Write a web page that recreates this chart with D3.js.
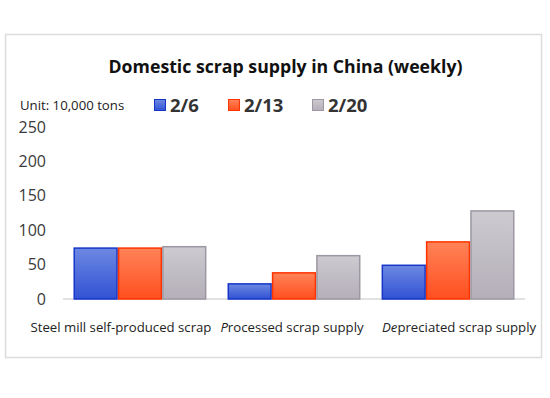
<!DOCTYPE html>
<html>
<head>
<meta charset="utf-8">
<script src="https://cdn.jsdelivr.net/npm/d3@7"></script>
<style>
  body { margin: 0; background: #fff; }
  svg { display: block; font-family: "Open Sans", "Noto Sans", sans-serif; }
</style>
</head>
<body>
<svg id="chart"></svg>
<script>
// data (10,000 tons)
const categories = ['Steel mill self-produced scrap', 'Processed scrap supply', 'Depreciated scrap supply'];
const weeks = ['2/6', '2/13', '2/20'];
const week_2_6 = [74, 22, 49];
const week_2_13 = [74, 38, 83];
const week_2_20 = [76, 63, 128];
const yTicks = [0, 50, 100, 150, 200, 250];

const seriesValues = [week_2_6, week_2_13, week_2_20];
const rows = categories.map((c, i) => ({
  category: c,
  values: weeks.map((w, j) => ({ week: w, value: seriesValues[j][i] }))
}));

const W = 550, H = 398;
const margin = { top: 127, right: 25, bottom: 99, left: 63 };
const w = W - margin.left - margin.right;
const h = H - margin.top - margin.bottom;

const svg = d3.select('#chart').attr('width', W).attr('height', H);

// gradients for the bars
const palette = {
  '2/6': { top: '#6d88e2', bottom: '#3152d4', stroke: '#1536c8' },
  '2/13': { top: '#ff8358', bottom: '#ff4f1f', stroke: '#ff3300' },
  '2/20': { top: '#cdcad0', bottom: '#b4afb8', stroke: '#9c97a2' }
};
const defs = svg.append('defs');
weeks.forEach((wk, i) => {
  const g = defs.append('linearGradient')
    .attr('id', 'grad' + i)
    .attr('x1', 0).attr('y1', 0).attr('x2', 0).attr('y2', 1);
  g.append('stop').attr('offset', '0%').attr('stop-color', palette[wk].top);
  g.append('stop').attr('offset', '100%').attr('stop-color', palette[wk].bottom);
});

// outer frame
svg.append('rect')
  .attr('x', 5.5).attr('y', 34.5)
  .attr('width', 536).attr('height', 323)
  .attr('fill', '#fff')
  .attr('stroke', '#dcdcdc')
  .attr('stroke-width', 1.5);

svg.append('text')
  .attr('x', 285.5).attr('y', 73)
  .attr('text-anchor', 'middle')
  .attr('font-size', 17.7)
  .attr('font-weight', 'bold')
  .attr('fill', '#111')
  .text('Domestic scrap supply in China (weekly)');

// legend
svg.append('text')
  .attr('x', 20).attr('y', 110)
  .attr('font-size', 13.2)
  .attr('fill', '#222')
  .text('Unit: 10,000 tons');

const legendX = [154, 228, 312];
const legend = svg.append('g');
weeks.forEach((wk, i) => {
  const g = legend.append('g').attr('transform', `translate(${legendX[i]},99)`);
  g.append('rect')
    .attr('x', 0.5).attr('y', 0.5)
    .attr('width', 11).attr('height', 11)
    .attr('fill', `url(#grad${i})`)
    .attr('stroke', palette[wk].stroke);
  g.append('text')
    .attr('x', 16).attr('y', 12.5)
    .attr('font-size', 18.5)
    .attr('font-weight', 'bold')
    .attr('fill', '#333')
    .text(wk);
});

const plot = svg.append('g')
  .attr('transform', `translate(${margin.left},${margin.top})`);

const x0 = d3.scaleBand()
  .domain(categories)
  .range([0, w])
  .paddingInner(0.137)
  .paddingOuter(0.068);

const x1 = d3.scaleBand()
  .domain(weeks)
  .range([0, x0.bandwidth()]);

const y = d3.scaleLinear()
  .domain([0, 250])
  .range([h, 0]);

// y axis: labels only
const yAxis = plot.append('g')
  .call(d3.axisLeft(y).tickValues(yTicks).tickSize(0).tickPadding(17));
yAxis.select('.domain').remove();
yAxis.selectAll('text')
  .attr('font-family', '"Open Sans", "Noto Sans", sans-serif')
  .attr('font-size', 16)
  .attr('fill', '#3a3a3a');

// baseline
plot.append('line')
  .attr('x1', 0).attr('x2', w)
  .attr('y1', y(0)).attr('y2', y(0))
  .attr('stroke', '#d8d8d8')
  .attr('stroke-width', 1.5);

const groups = plot.selectAll('.grp')
  .data(rows)
  .enter()
  .append('g')
  .attr('class', 'grp')
  .attr('transform', d => `translate(${x0(d.category)},0)`);

groups.selectAll('rect')
  .data(d => d.values)
  .enter()
  .append('rect')
  .attr('x', d => x1(d.week) + 0.75)
  .attr('y', d => y(d.value))
  .attr('width', x1.bandwidth() - 1.5)
  .attr('height', d => y(0) - y(d.value))
  .attr('fill', (d, i) => `url(#grad${i})`)
  .attr('stroke', d => palette[d.week].stroke)
  .attr('stroke-width', 1.5);

// category labels (the first letters of two labels are italic in the source)
const italicHead = [0, 1, 2];
const labelNudge = [-19, -2, 11];
groups.append('text')
  .attr('x', (d, i) => x0.bandwidth() / 2 + labelNudge[i])
  .attr('y', y(0) + 33)
  .attr('text-anchor', 'middle')
  .attr('font-size', 13.2)
  .attr('fill', '#222')
  .each(function (d, i) {
    const t = d3.select(this);
    const n = italicHead[i];
    if (n > 0) t.append('tspan').attr('font-style', 'italic').text(d.category.slice(0, n));
    t.append('tspan').text(d.category.slice(n));
  });
</script>
</body>
</html>
